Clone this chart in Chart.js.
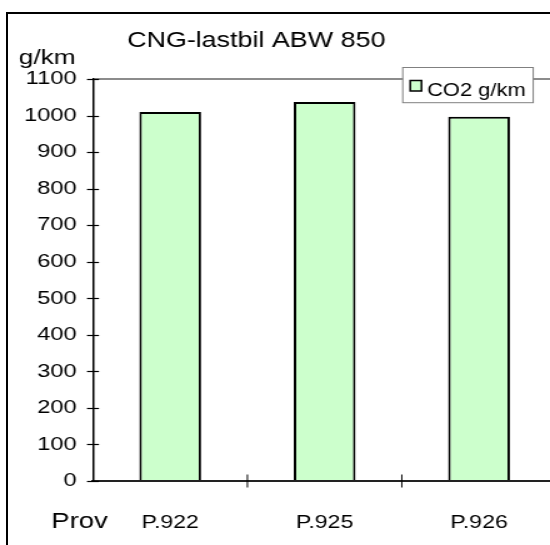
<!DOCTYPE html>
<html>
<head>
<meta charset="utf-8">
<script src="https://cdn.jsdelivr.net/npm/chart.js@4.4.1/dist/chart.umd.min.js"></script>
<style>
  html, body { margin: 0; padding: 0; background: #fff; overflow: hidden; width: 550px; height: 545px; }
  #frame { position: absolute; left: 6px; top: 12px; width: 700px; height: 700px;
    border-left: 2px solid #000; border-top: 2px solid #000; }
  #wrap { position: absolute; left: 0; top: 0; transform: scaleX(1.25); transform-origin: 0 0; }
</style>
</head>
<body>
<div id="frame"></div>
<div id="wrap"><canvas id="chart" width="460" height="545"></canvas></div>
<script>
"use strict";

const categories = ["P.922", "P.925", "P.926"];
const co2Values = [1010, 1037, 997];
const seriesName = "CO2 g/km";
const chartTitle = "CNG-lastbil ABW 850";
const yUnit = "g/km";
const xName = "Prov";

const FONT = "'Liberation Sans', Arial, sans-serif";

// text, legend box and the crossing tick marks the way the old spreadsheet draws them
const decorPlugin = {
  id: "decor",
  afterDraw(chart) {
    const ctx = chart.ctx;
    const area = chart.chartArea;
    const xs = chart.scales.x;
    const ys = chart.scales.y;

    ctx.save();
    ctx.strokeStyle = "#000";
    ctx.lineWidth = 1.2;
    ys.ticks.forEach((t) => {
      const y = Math.round(ys.getPixelForValue(t.value)) + 0.5;
      ctx.beginPath();
      ctx.moveTo(area.left - 4.8, y);
      ctx.lineTo(area.left + 4.8, y);
      ctx.stroke();
    });
    ctx.lineWidth = 1;
    for (let i = 1; i < categories.length; i++) {
      const x = (xs.getPixelForTick(i - 1) + xs.getPixelForTick(i)) / 2;
      ctx.beginPath();
      ctx.moveTo(x, area.bottom - 6.5);
      ctx.lineTo(x, area.bottom + 6.5);
      ctx.stroke();
    }

    ctx.fillStyle = "#000";
    ctx.textBaseline = "alphabetic";
    ctx.font = "21.5px " + FONT;
    ctx.textAlign = "center";
    ctx.fillText(chartTitle, 205, 46.5);

    ctx.textAlign = "left";
    ctx.font = "21px " + FONT;
    ctx.fillText(yUnit, 15, 64.3);
    ctx.font = "22px " + FONT;
    ctx.fillText(xName, 41, 528);

    // legend
    const ds = chart.data.datasets[0];
    const bx = area.right - 122.8;
    const by = 67.5;
    ctx.fillStyle = "#fff";
    ctx.fillRect(bx, by, 104.4, 35.2);
    ctx.strokeStyle = "#808080";
    ctx.lineWidth = 1;
    ctx.strokeRect(bx, by, 104.4, 35.2);
    ctx.fillStyle = ds.backgroundColor;
    ctx.fillRect(bx + 6, 80.5, 9, 10.5);
    ctx.strokeStyle = "#000";
    ctx.lineWidth = 1.5;
    ctx.strokeRect(bx + 6, 80.5, 9, 10.5);
    ctx.fillStyle = "#000";
    ctx.font = "17.5px " + FONT;
    ctx.fillText(ds.label, bx + 19.5, 96);
    ctx.restore();
  },
};

new Chart(document.getElementById("chart"), {
  type: "bar",
  data: {
    labels: categories,
    datasets: [
      {
        label: seriesName,
        data: co2Values,
        backgroundColor: "#ccffcc",
        borderColor: "#000",
        borderWidth: 2,
        borderSkipped: "bottom",
        barPercentage: 0.4,
        categoryPercentage: 1,
      },
    ],
  },
  options: {
    responsive: false,
    animation: false,
    events: [],
    layout: { padding: { top: 79, right: 15, left: 0, bottom: 0 } },
    plugins: {
      legend: { display: false },
      title: { display: false },
      tooltip: { enabled: false },
    },
    scales: {
      x: {
        grid: { display: false, drawTicks: false },
        border: { color: "#222", width: 2 },
        ticks: {
          color: "#000",
          padding: 31,
          font: { family: FONT, size: 18.5 },
        },
        afterFit(scale) {
          scale.height = 64;
        },
      },
      y: {
        min: 0,
        max: 1100,
        grid: {
          drawTicks: false,
          color: (c) => (c.tick && c.tick.value === 1100 ? "#8c8c8c" : "rgba(0,0,0,0)"),
          lineWidth: 2,
        },
        border: { color: "#000", width: 1.5 },
        ticks: {
          stepSize: 100,
          color: "#000",
          padding: 13,
          font: { family: FONT, size: 19 },
          callback: (v) => String(v),
        },
        afterFit(scale) {
          scale.width = 74.4;
        },
      },
    },
  },
  plugins: [decorPlugin],
});
</script>
</body>
</html>
